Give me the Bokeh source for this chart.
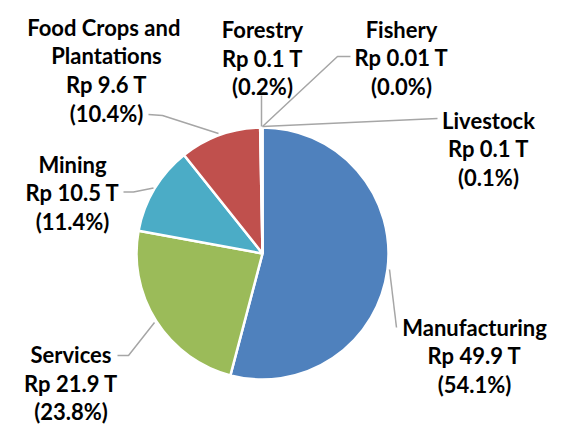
import math
from bokeh.plotting import figure
from bokeh.models import ColumnDataSource, Range1d
from bokeh.embed import file_html
from bokeh.resources import INLINE
from bokeh.core.properties import value

# ---- data ----
sectors = ["Manufacturing", "Services", "Mining", "Food  Crops and\nPlantations",
           "Forestry", "Fishery", "Livestock"]
values_T = [49.9, 21.9, 10.5, 9.6, 0.1, 0.01, 0.1]
shares = [54.1, 23.8, 11.4, 10.4, 0.2, 0.0, 0.1]
colors = ["#4F81BD", "#9BBB59", "#4BACC6", "#C0504D", "#8064A2", "#F79646", "#2C4D75"]

# ---- layout (pixel coordinates from the top-left of the chart) ----
W, H = 556, 425
def P(X, Y):
    return X, H - Y

CX, CY = P(262, 253)
R = 126
LINE_STEP = 28.7

# (centre x, baseline of first line)
label_pos = {
    "Manufacturing": (474, 326.7),
    "Services": (70.5, 354),
    "Mining": (72, 163.5),
    "Food  Crops and\nPlantations": (106, 26.7),
    "Forestry": (262, 29),
    "Fishery": (401, 28.5),
    "Livestock": (488, 119.5),
}
leaders = {
    "Manufacturing": [(389, 269), (396, 327)],
    "Services": [(117, 355), (128, 355), (154, 322)],
    "Mining": [(123, 191.5), (133, 191.5), (153, 187.5)],
    "Food  Crops and\nPlantations": [(148, 114), (162, 115), (218, 133)],
    "Forestry": [(261, 95), (261, 126)],
    "Fishery": [(262, 126), (337, 56), (350, 56)],
    "Livestock": [(262, 126), (437, 118)],
}

p = figure(width=W, height=H, output_backend="svg", toolbar_location=None,
           x_range=Range1d(0, W), y_range=Range1d(0, H), min_border=0)
p.axis.visible = False
p.grid.visible = False
p.outline_line_color = None
p.background_fill_color = "white"
p.border_fill_color = "white"

# wedges: clockwise from 12 o'clock
total = sum(shares)
starts, ends, wcols = [], [], []
cum = 0.0
for s, c in zip(shares, colors):
    a0 = cum / total * 360.0
    a1 = (cum + s) / total * 360.0
    cum += s
    if s <= 0:
        continue
    starts.append(math.radians(90 - a1))
    ends.append(math.radians(90 - a0))
    wcols.append(c)

src = ColumnDataSource(dict(start=starts, end=ends, color=wcols))
p.wedge(x=CX, y=CY, radius=R, start_angle="start", end_angle="end",
        fill_color="color", line_color="white", line_width=2.5, source=src)

# leader lines
xs, ys = [], []
for name in sectors:
    pts = [P(X, Y) for X, Y in leaders[name]]
    xs.append([q[0] for q in pts])
    ys.append([q[1] for q in pts])
p.multi_line(xs=xs, ys=ys, line_color="#A6A6A6", line_width=1.5)

# labels, one text per line
tx, ty, tt = [], [], []
for name, v, s in zip(sectors, values_T, shares):
    X, Y = label_pos[name]
    lines = name.split("\n") + [f"Rp {v:g} T", f"({s:.1f}%)"]
    for i, ln in enumerate(lines):
        x, y = P(X, Y + i * LINE_STEP)
        tx.append(x)
        ty.append(y)
        tt.append(ln)
p.text(x=tx, y=ty, text=tt, text_font=value("Lato"), text_font_style="bold",
       text_font_size="22px", text_align="center", text_baseline="alphabetic",
       text_color="black")

open("out.html", "w").write(file_html(p, INLINE))
